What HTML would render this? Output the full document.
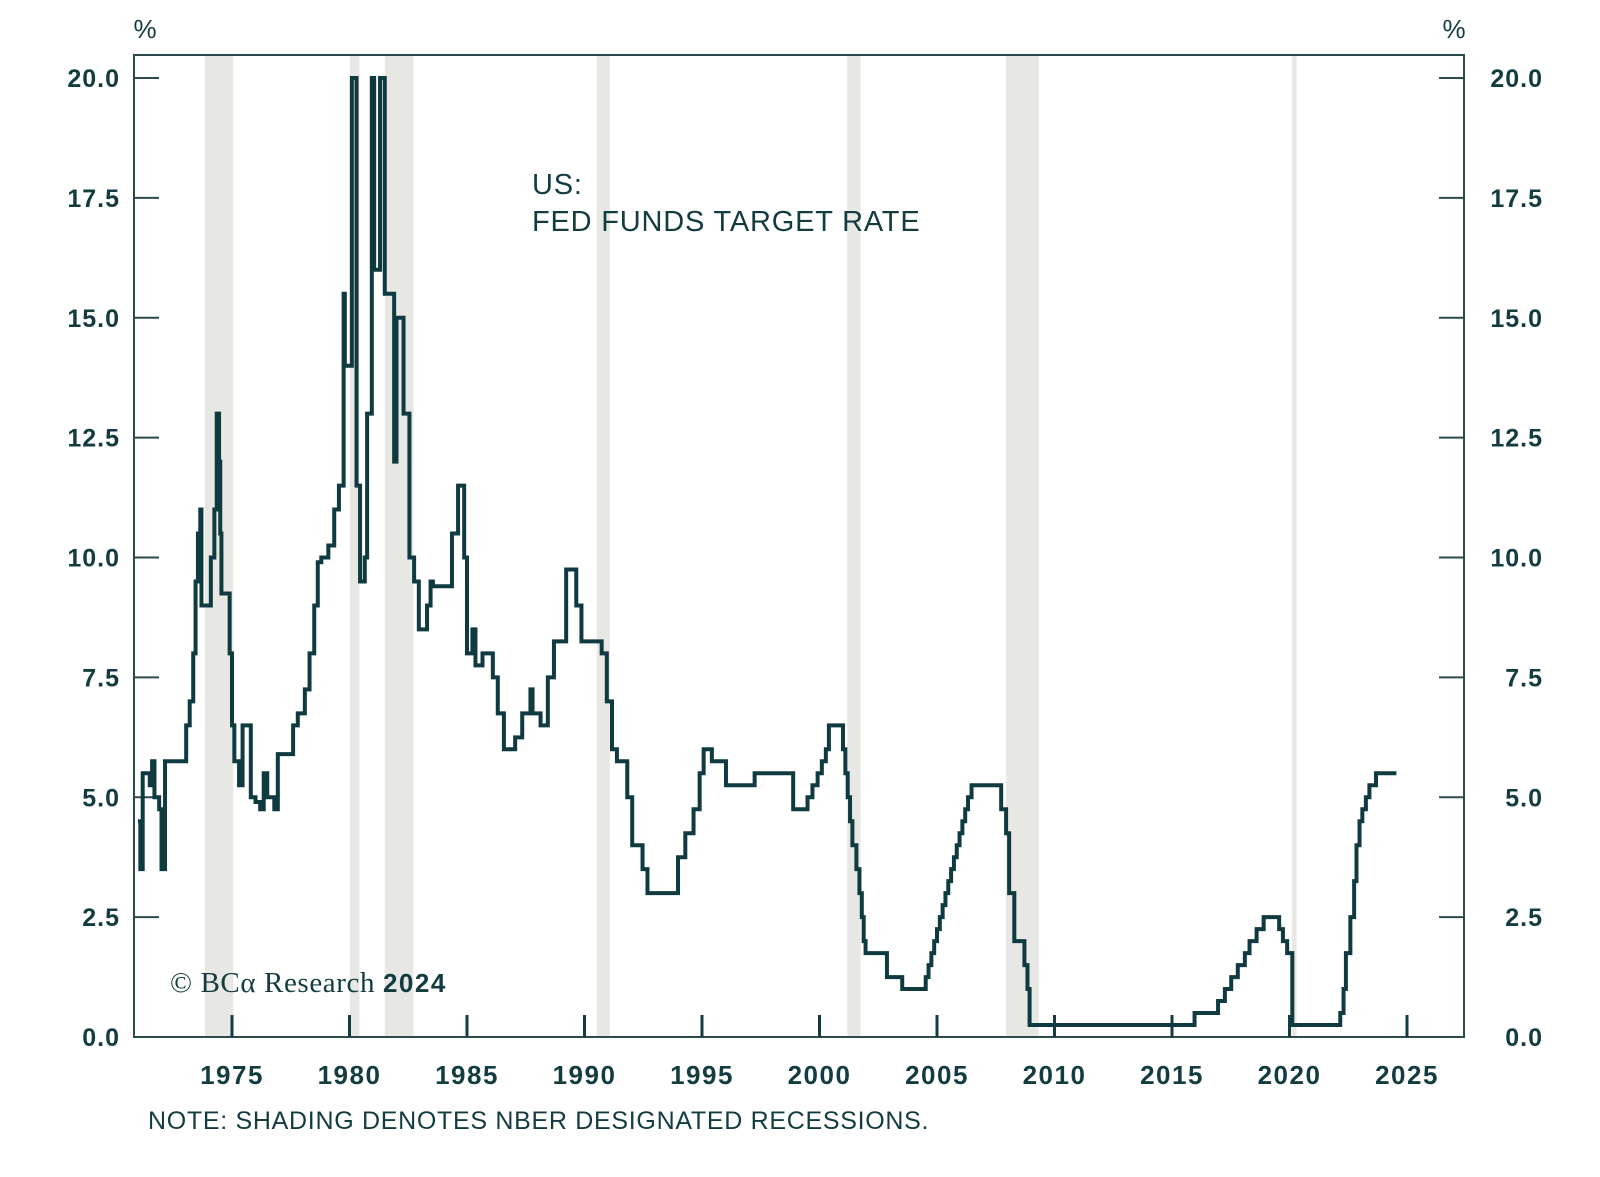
<!DOCTYPE html>
<html><head><meta charset="utf-8"><style>
html,body{margin:0;padding:0;background:#fff;}
svg{display:block;}
text{font-family:"Liberation Sans",sans-serif;fill:#123c40;}
</style></head><body>
<svg id="chart" width="1600" height="1177" viewBox="0 0 1600 1177">
<g id="rec"></g>
<rect x="134" y="55" width="1330" height="982" fill="none" stroke="#2a4a4e" stroke-width="2"/>
<g id="axes"></g>
<path id="line" fill="none" stroke="#0f3a40" stroke-width="4" stroke-linejoin="miter"/>
<text x="145" y="38" font-size="26" text-anchor="middle">%</text>
<text x="1454" y="38" font-size="26" text-anchor="middle">%</text>
<text x="532" y="194" font-size="29" letter-spacing="0.8">US:</text>
<text x="532" y="231" font-size="29" letter-spacing="0.8">FED FUNDS TARGET RATE</text>
<text x="170" y="992" font-size="29" letter-spacing="0.6" style="font-family:'Liberation Serif',serif">© BCα Research <tspan font-weight="bold" style="font-family:'Liberation Sans',sans-serif" font-size="26" letter-spacing="1.5">2024</tspan></text>
<text x="148" y="1129" font-size="25" letter-spacing="0.7">NOTE: SHADING DENOTES NBER DESIGNATED RECESSIONS.</text>
</svg>
<script>
const years=[1971.0,1971.1,1971.2,1971.5,1971.6,1971.7,1971.9,1972.0,1972.15,1973.05,1973.2,1973.35,1973.45,1973.55,1973.65,1973.7,1974.1,1974.25,1974.35,1974.45,1974.5,1974.55,1974.9,1975.0,1975.1,1975.3,1975.45,1975.8,1976.0,1976.2,1976.35,1976.5,1976.8,1976.95,1977.6,1977.8,1978.1,1978.3,1978.5,1978.65,1978.8,1979.1,1979.35,1979.55,1979.75,1979.8,1980.1,1980.3,1980.45,1980.65,1980.75,1980.95,1981.05,1981.3,1981.5,1981.9,1982.0,1982.3,1982.55,1982.75,1982.95,1983.3,1983.45,1983.55,1984.36,1984.62,1984.88,1985.0,1985.23,1985.36,1985.66,1986.1,1986.31,1986.57,1987.05,1987.35,1987.7,1987.79,1988.13,1988.44,1988.7,1989.22,1989.65,1989.87,1990.73,1990.95,1991.17,1991.38,1991.82,1992.03,1992.47,1992.68,1993.98,1994.29,1994.64,1994.9,1995.07,1995.42,1996.02,1997.24,1998.88,1999.49,1999.7,1999.92,2000.1,2000.27,2000.4,2001.0,2001.1,2001.2,2001.3,2001.4,2001.57,2001.7,2001.8,2001.88,2001.96,2002.87,2003.52,2004.52,2004.64,2004.76,2004.88,2005.0,2005.12,2005.24,2005.36,2005.48,2005.6,2005.72,2005.84,2005.96,2006.08,2006.2,2006.32,2006.47,2007.73,2007.94,2008.07,2008.29,2008.72,2008.85,2008.94,2015.96,2016.96,2017.25,2017.52,2017.8,2018.1,2018.3,2018.6,2018.9,2019.56,2019.72,2019.9,2020.12,2022.16,2022.3,2022.4,2022.59,2022.75,2022.85,2022.98,2023.1,2023.25,2023.4,2023.68];
const rates=[4.5,3.5,5.5,5.25,5.75,5.0,4.75,3.5,5.75,6.5,7.0,8.0,9.5,10.5,11.0,9.0,10.0,11.0,13.0,12.0,10.5,9.25,8.0,6.5,5.75,5.25,6.5,5.0,4.9,4.75,5.5,5.0,4.75,5.9,6.5,6.75,7.25,8.0,9.0,9.9,10.0,10.25,11.0,11.5,15.5,14.0,20.0,11.5,9.5,10.0,13.0,20.0,16.0,20.0,15.5,12.0,15.0,13.0,10.0,9.5,8.5,9.0,9.5,9.4,10.5,11.5,10.0,8.0,8.5,7.75,8.0,7.5,6.75,6.0,6.25,6.75,7.25,6.75,6.5,7.5,8.25,9.75,9.0,8.25,8.0,7.0,6.0,5.75,5.0,4.0,3.5,3.0,3.75,4.25,4.75,5.5,6.0,5.75,5.25,5.5,4.75,5.0,5.25,5.5,5.75,6.0,6.5,6.0,5.5,5.0,4.5,4.0,3.5,3.0,2.5,2.0,1.75,1.25,1.0,1.25,1.5,1.75,2.0,2.25,2.5,2.75,3.0,3.25,3.5,3.75,4.0,4.25,4.5,4.75,5.0,5.25,4.75,4.25,3.0,2.0,1.5,1.0,0.25,0.5,0.75,1.0,1.25,1.5,1.75,2.0,2.25,2.5,2.25,2.0,1.75,0.25,0.5,1.0,1.75,2.5,3.25,4.0,4.5,4.75,5.0,5.25,5.5];
const endYear=2024.55;
const recStart=[1973.85,1980.02,1981.5,1990.52,2001.18,2007.94,2020.1];
const recEnd=[1975.05,1980.42,1982.72,1991.08,2001.75,2009.33,2020.3];
const yTicks=[0,2.5,5,7.5,10,12.5,15,17.5,20];
const yTickLabels=["0.0","2.5","5.0","7.5","10.0","12.5","15.0","17.5","20.0"];
const xTicks=[1975,1980,1985,1990,1995,2000,2005,2010,2015,2020,2025];

const NS="http://www.w3.org/2000/svg";
const X=y=>232+(y-1975)*23.5;
const Y=v=>1037-v*47.95;
const rec=document.getElementById('rec'),axes=document.getElementById('axes');
function mk(tag,attrs,parent){const e=document.createElementNS(NS,tag);for(const k in attrs)e.setAttribute(k,attrs[k]);parent.appendChild(e);return e;}
for(let i=0;i<recStart.length;i++){
  const r=mk('rect',{x:X(recStart[i]),y:56,width:X(recEnd[i])-X(recStart[i]),height:980,fill:'#e7e7e3'},rec);
  
  
}
for(let i=0;i<yTicks.length;i++){
  const yy=Y(yTicks[i]);
  const t1=mk('line',{x1:134,x2:159,y1:yy,y2:yy,stroke:'#2a4a4e','stroke-width':2},axes);
  
  
  const t2=mk('line',{x1:1439,x2:1464,y1:yy,y2:yy,stroke:'#2a4a4e','stroke-width':2},axes);
  
  
  const l1=mk('text',{x:120,y:yy+9,'font-size':25,'font-weight':'bold','letter-spacing':1,'text-anchor':'end'},axes);
  l1.textContent=yTickLabels[i];
  
  
  const l2=mk('text',{x:1543,y:yy+9,'font-size':25,'font-weight':'bold','letter-spacing':1,'text-anchor':'end'},axes);
  l2.textContent=yTickLabels[i];
  
  
}
for(const t of xTicks){
  const xx=X(t);
  const tk=mk('line',{x1:xx,x2:xx,y1:1015,y2:1037,stroke:'#123c40','stroke-width':3},axes);
  
  
  const lb=mk('text',{x:xx,y:1084,'font-size':26,'font-weight':'bold','letter-spacing':1.5,'text-anchor':'middle'},axes);
  lb.textContent=t;
  
  
}
let d='M'+X(years[0])+' '+Y(rates[0]);
for(let i=1;i<years.length;i++){d+=' H'+X(years[i])+' V'+Y(rates[i]);}
d+=' H'+X(endYear);
document.getElementById('line').setAttribute('d',d);
</script>
</body></html>
